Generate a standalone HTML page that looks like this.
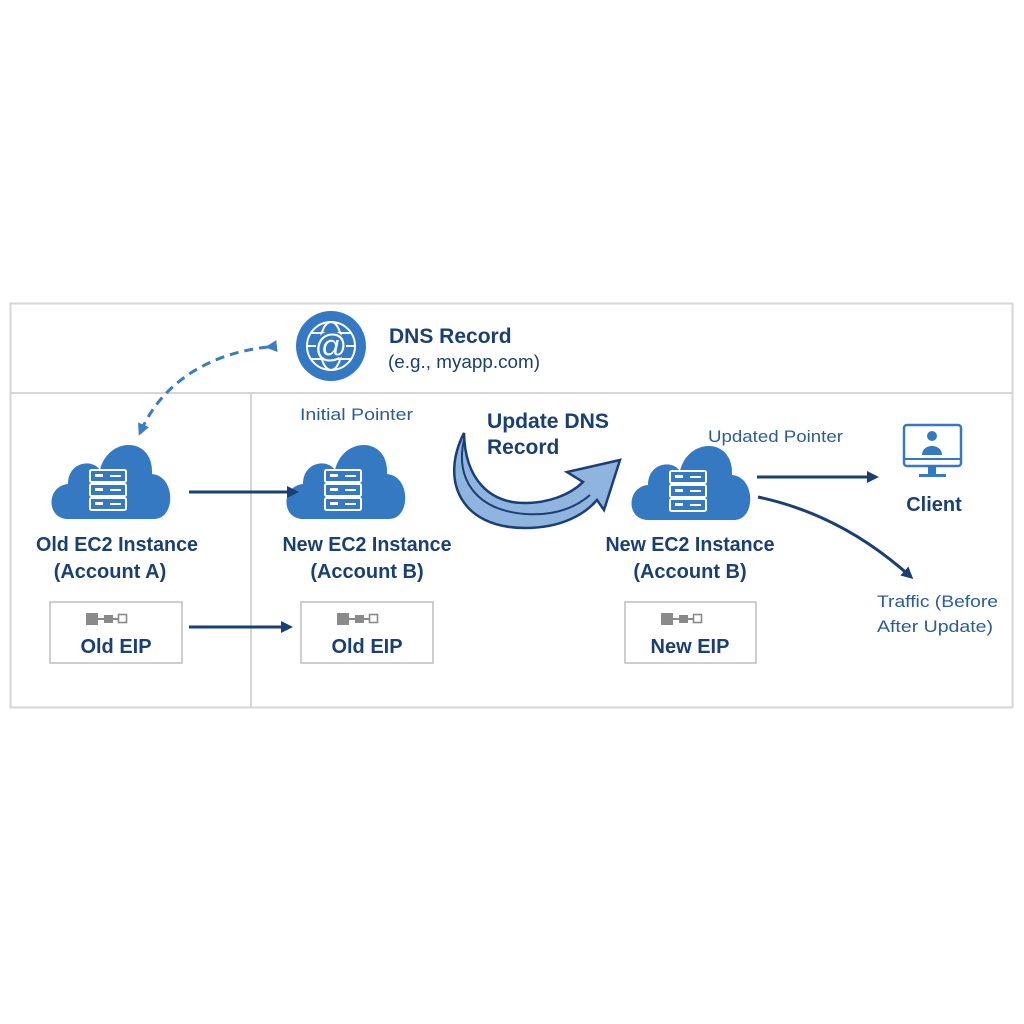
<!DOCTYPE html>
<html><head><meta charset="utf-8"><style>
body{margin:0;background:#fff;}
svg{display:block;font-family:"Liberation Sans",sans-serif;}
</style></head><body>
<svg width="1024" height="1024" viewBox="0 0 1024 1024" xmlns="http://www.w3.org/2000/svg">
<defs>
<marker id="ah" markerWidth="12" markerHeight="12" refX="9" refY="6" orient="auto" markerUnits="userSpaceOnUse"><path d="M0,0 L12,6 L0,12 Z" fill="#1a3f73"/></marker>
<marker id="ahl" markerWidth="12" markerHeight="12" refX="9" refY="6" orient="auto" markerUnits="userSpaceOnUse"><path d="M0,0 L12,6 L0,12 Z" fill="#3b7cc4"/></marker>
<g id="cloud">
<path d="M-40,41 C-62,41 -62,8 -40,6 C-40,-16 -16,-20 -8,-8 C0,-42 46,-42 44,-4 C68,-2 68,41 46,41 Z" fill="#3579c3"/>
<g fill="none" stroke="#fff" stroke-width="2"><rect x="-18" y="-8" width="36" height="12" rx="1.5"/><rect x="-18" y="6" width="36" height="12" rx="1.5"/><rect x="-18" y="20" width="36" height="12" rx="1.5"/></g>
<g fill="#fff"><rect x="-13" y="-4" width="8" height="3"/><rect x="-13" y="10" width="8" height="3"/><rect x="-13" y="24" width="8" height="3"/><rect x="2" y="-3" width="11" height="2"/><rect x="2" y="11" width="11" height="2"/><rect x="2" y="25" width="11" height="2"/></g>
</g>
<g id="eip"><rect x="-27" y="-7" width="12" height="12" fill="#8a8a8a"/><rect x="-15" y="-2" width="6" height="2" fill="#8a8a8a"/><rect x="-9" y="-5" width="9" height="8" fill="#8a8a8a"/><rect x="0" y="-2" width="5" height="2" fill="#8a8a8a"/><rect x="5.5" y="-5.5" width="8" height="8" fill="#fff" stroke="#8a8a8a" stroke-width="1.6"/></g>
</defs>
<rect x="10.5" y="303.5" width="1002" height="404" fill="#fff" stroke="#d6d6d6" stroke-width="2"/>
<line x1="10" y1="393" x2="1013" y2="393" stroke="#d6d6d6" stroke-width="2"/>
<line x1="251" y1="393" x2="251" y2="708" stroke="#d6d6d6" stroke-width="2"/>

<circle cx="331" cy="346" r="35" fill="#3579c3"/>
<g fill="none" stroke="#fff" stroke-width="2"><circle cx="331" cy="346" r="24"/><ellipse cx="331" cy="346" rx="11" ry="24"/><line x1="307" y1="346" x2="355" y2="346"/><line x1="310" y1="333" x2="352" y2="333"/><line x1="310" y1="359" x2="352" y2="359"/></g>
<circle cx="331" cy="346" r="15" fill="#3579c3"/>
<text x="331" y="357" font-size="32" fill="#fff" text-anchor="middle">@</text>
<text x="389" y="343" font-size="21" font-weight="bold" fill="#1a3f73">DNS Record</text>
<text x="388" y="368" font-size="18" fill="#1a3f73" textLength="152" lengthAdjust="spacingAndGlyphs">(e.g., myapp.com)</text>

<path d="M268,347 C220,352 165,375 140,433" fill="none" stroke="#3b7cc4" stroke-width="3" stroke-dasharray="9,6" marker-start="url(#ahl)" marker-end="url(#ahl)"/>

<use href="#cloud" x="108" y="478"/>
<use href="#cloud" x="343" y="478"/>
<use href="#cloud" x="688" y="479"/>

<g font-size="20" font-weight="bold" fill="#1a3f73" text-anchor="middle">
<text x="117" y="551" textLength="162" lengthAdjust="spacingAndGlyphs">Old EC2 Instance</text>
<text x="110" y="578">(Account A)</text>
<text x="367" y="551" textLength="169" lengthAdjust="spacingAndGlyphs">New EC2 Instance</text>
<text x="367" y="578">(Account B)</text>
<text x="690" y="551" textLength="169" lengthAdjust="spacingAndGlyphs">New EC2 Instance</text>
<text x="690" y="578">(Account B)</text>
</g>

<text x="300" y="420" font-size="17" fill="#2b5c9a" textLength="113" lengthAdjust="spacingAndGlyphs">Initial Pointer</text>
<text x="708" y="442" font-size="17" fill="#2b5c9a" textLength="135" lengthAdjust="spacingAndGlyphs">Updated Pointer</text>

<line x1="189" y1="492" x2="296" y2="492" stroke="#1a3f73" stroke-width="3" marker-end="url(#ah)"/>
<line x1="189" y1="627" x2="290" y2="627" stroke="#1a3f73" stroke-width="3" marker-end="url(#ah)"/>
<line x1="757" y1="477" x2="876" y2="477" stroke="#1a3f73" stroke-width="3" marker-end="url(#ah)"/>
<path d="M758,497 C820,510 870,540 911,577" fill="none" stroke="#1a3f73" stroke-width="3" marker-end="url(#ah)"/>

<rect x="50" y="602" width="132" height="61" fill="#fff" stroke="#bdbdbd" stroke-width="1.5"/>
<use href="#eip" x="113" y="620"/>
<text x="116" y="653" font-size="20" font-weight="bold" fill="#1a3f73" text-anchor="middle">Old EIP</text>
<rect x="301" y="602" width="132" height="61" fill="#fff" stroke="#bdbdbd" stroke-width="1.5"/>
<use href="#eip" x="364" y="620"/>
<text x="367" y="653" font-size="20" font-weight="bold" fill="#1a3f73" text-anchor="middle">Old EIP</text>
<rect x="625" y="602" width="131" height="61" fill="#fff" stroke="#bdbdbd" stroke-width="1.5"/>
<use href="#eip" x="688" y="620"/>
<text x="690" y="653" font-size="20" font-weight="bold" fill="#1a3f73" text-anchor="middle">New EIP</text>

<!-- curved big arrow -->
<path d="M464,433 C440,480 460,528 525,528 C562,528 585,514 597,500 L604,510 L620,460 L567,472 L583,482 C570,495 548,503 525,503 C490,503 465,480 464,433 Z" fill="#8fb4e0" stroke="#1a3f73" stroke-width="2.5"/>
<path d="M464,440 C455,478 475,510 525,514 C555,516 575,508 590,495" fill="none" stroke="#1a3f73" stroke-width="2"/>
<text x="487" y="428" font-size="21" font-weight="bold" fill="#1a3f73" textLength="122" lengthAdjust="spacingAndGlyphs">Update DNS</text>
<text x="487" y="454" font-size="21" font-weight="bold" fill="#1a3f73">Record</text>

<!-- client -->
<rect x="904" y="425" width="57" height="41" rx="3" fill="none" stroke="#3579c3" stroke-width="2.5"/>
<line x1="904" y1="459" x2="961" y2="459" stroke="#3579c3" stroke-width="2"/>
<rect x="928" y="466" width="8" height="8" fill="#3579c3"/>
<rect x="919" y="474" width="27" height="3" fill="#3579c3"/>
<circle cx="932" cy="436" r="5" fill="#3579c3"/>
<path d="M922,455 C922,443 942,443 942,455 Z" fill="#3579c3"/>
<text x="934" y="511" font-size="20" font-weight="bold" fill="#1a3f73" text-anchor="middle">Client</text>
<text x="877" y="607" font-size="17" fill="#2b5c9a" textLength="121" lengthAdjust="spacingAndGlyphs">Traffic (Before</text>
<text x="877" y="632" font-size="17" fill="#2b5c9a" textLength="116" lengthAdjust="spacingAndGlyphs">After Update)</text>
</svg>
</body></html>
